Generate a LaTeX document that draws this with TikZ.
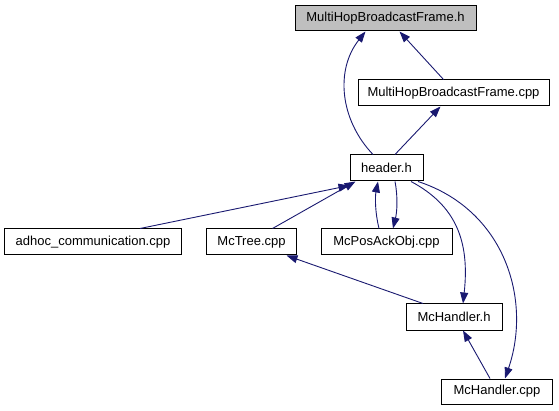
\documentclass[tikz,border=0pt]{standalone}
\usepackage{fontspec}
\setmainfont{Liberation Sans}
\usetikzlibrary{arrows.meta}
\definecolor{edgeblue}{RGB}{25,25,112}
\definecolor{hlgray}{RGB}{191,191,191}
\begin{document}
\begin{tikzpicture}[x=1pt,y=-1pt,
  filebox/.style={draw=black,fill=white,line width=1pt,inner sep=0pt,font=\fontsize{13}{15}\selectfont},
  dep/.style={draw=edgeblue,line width=0.9pt,-{Triangle[length=11pt,width=8pt]}}]
\useasboundingbox (0,0) rectangle (559,411);
\node[filebox,fill=hlgray,minimum width=181pt,minimum height=25pt] (mhbfh) at (385.5,18.5) {MultiHopBroadcastFrame.h};
\node[filebox,minimum width=191pt,minimum height=26pt] (mhbfc) at (453.5,93) {MultiHopBroadcastFrame.cpp};
\node[filebox,minimum width=73pt,minimum height=26pt] (hdr) at (386.5,168) {header.h};
\node[filebox,minimum width=177pt,minimum height=26pt] (adhoc) at (93,242) {adhoc\_communication.cpp};
\node[filebox,minimum width=90pt,minimum height=26pt] (tree) at (251.5,242) {McTree.cpp};
\node[filebox,minimum width=131pt,minimum height=26pt] (pos) at (386.5,242) {McPosAckObj.cpp};
\node[filebox,minimum width=96pt,minimum height=26pt] (mch) at (454,317) {McHandler.h};
\node[filebox,minimum width=111pt,minimum height=25pt] (mcc) at (497,391.5) {McHandler.cpp};

\draw[dep] ([xshift=-10pt]mhbfc.north) -- ([xshift=14pt]mhbfh.south);
\draw[dep] ([xshift=-13.5pt]hdr.north) .. controls (340,120) and (335,70) .. ([xshift=-20pt]mhbfh.south);
\draw[dep] ([xshift=8.5pt]hdr.north) -- ([xshift=-13pt]mhbfc.south);
\draw[dep] ([xshift=47pt]adhoc.north) -- ([yshift=-4pt]hdr.south west);
\draw[dep] ([xshift=21pt]tree.north) -- ([xshift=-31pt]hdr.south);
\draw[dep] ([xshift=-7.5pt]pos.north) .. controls (375,212) and (375,197) .. ([xshift=-8.5pt]hdr.south);
\draw[dep] ([xshift=8.5pt]hdr.south) .. controls (398,197) and (397,212) .. ([xshift=6.5pt]pos.north);
\draw[dep] ([xshift=24.5pt]hdr.south) .. controls (455,205) and (470,240) .. ([xshift=9pt]mch.north);
\draw[dep] ([xshift=31.5pt]hdr.south) .. controls (505,210) and (532,300) .. ([xshift=8pt]mcc.north);
\draw[dep] ([xshift=-31pt]mch.north) -- ([xshift=35pt]tree.south);
\draw[dep] ([xshift=-7pt]mcc.north) -- ([xshift=9pt]mch.south);
\end{tikzpicture}
\end{document}
